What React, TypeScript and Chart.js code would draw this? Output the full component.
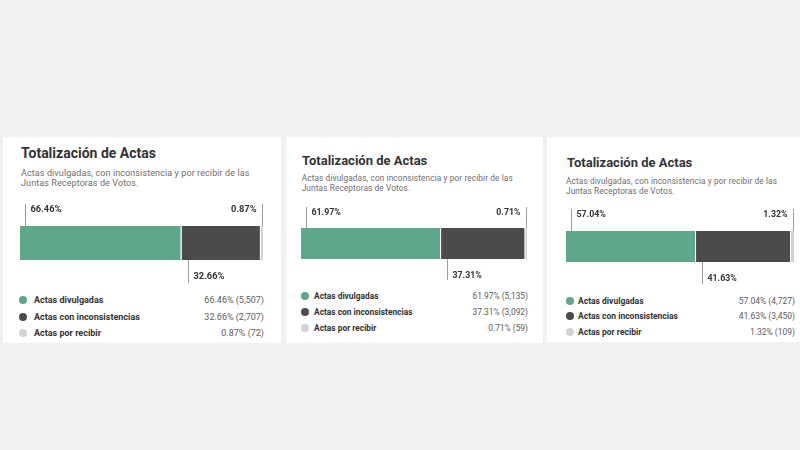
import React, { useEffect, useRef } from "react";
import { Chart, registerables } from "chart.js";
Chart.register(...registerables);

// ---------- data ----------
const TITLE = "Totalización de Actas";
const SUBTITLE_LINES = [
  "Actas divulgadas, con inconsistencia y por recibir de las",
  "Juntas Receptoras de Votos.",
];
const categories = ["Actas divulgadas", "Actas con inconsistencias", "Actas por recibir"];
const pctPanel1 = [66.46, 32.66, 0.87];
const countPanel1 = [5507, 2707, 72];
const pctPanel2 = [61.97, 37.31, 0.71];
const countPanel2 = [5135, 3092, 59];
const pctPanel3 = [57.04, 41.63, 1.32];
const countPanel3 = [4727, 3450, 109];

// ---------- styles ----------
const COLORS = ["#5ea78b", "#4b4b4b", "#d2d2d2"];
const FONT = "Roboto, 'Noto Sans', sans-serif";

type PanelLayout = {
  left: number; top: number; width: number; height: number;
  titleX: number; titleTop: number; titleFs: number;
  subX: number; subTop: number; subFs: number; subLh: number;
  canvasTop: number; canvasH: number;
  pad: { left: number; right: number; top: number; bottom: number };
  rows: number[]; dotX: number; dot: number; labelX: number; valueRight: number; legendFs: number;
  annotFs: number; up: number; down: number;
};

const layouts: PanelLayout[] = [
  {
    left: 3, top: 137, width: 278, height: 206,
    titleX: 18, titleTop: 9.2, titleFs: 14,
    subX: 18, subTop: 30.5, subFs: 9, subLh: 10.5,
    canvasTop: 61, canvasH: 92,
    pad: { left: 17, right: 18, top: 28, bottom: 30 },
    rows: [163, 180, 196], dotX: 20, dot: 8.5, labelX: 31, valueRight: 17, legendFs: 9,
    annotFs: 9.3, up: 22, down: 23,
  },
  {
    left: 286, top: 137, width: 257, height: 206,
    titleX: 16, titleTop: 17.1, titleFs: 13,
    subX: 15.7, subTop: 36, subFs: 8.3, subLh: 10,
    canvasTop: 63, canvasH: 88,
    pad: { left: 15, right: 16, top: 28, bottom: 29 },
    rows: [159, 175, 191], dotX: 19, dot: 8, labelX: 28, valueRight: 15, legendFs: 8.4,
    annotFs: 8.8, up: 21, down: 21,
  },
  {
    left: 547, top: 137, width: 260, height: 205,
    titleX: 20, titleTop: 19.1, titleFs: 13,
    subX: 19, subTop: 39, subFs: 8.3, subLh: 10,
    canvasTop: 65, canvasH: 90,
    pad: { left: 19, right: 13, top: 29, bottom: 30 },
    rows: [164, 179, 195], dotX: 23, dot: 8, labelX: 31, valueRight: 12, legendFs: 8.5,
    annotFs: 8.8, up: 22, down: 22,
  },
];

const fmtPct = (v: number) => v.toFixed(2) + "%";

const annotPlugin = {
  id: "annot",
  afterDatasetsDraw(chart: any, _args: any, opts: any) {
    const ctx = chart.ctx as CanvasRenderingContext2D;
    const pct: number[] = opts.pct;
    const el0 = chart.getDatasetMeta(0).data[0] as any;
    const el1 = chart.getDatasetMeta(1).data[0] as any;
    const el2 = chart.getDatasetMeta(2).data[0] as any;
    const top = el0.y - el0.height / 2;
    const bottom = el0.y + el0.height / 2;
    ctx.save();
    ctx.strokeStyle = "#9c9c9c";
    ctx.lineWidth = 1;
    ctx.fillStyle = "#333333";
    ctx.font = `bold ${opts.fs}px ${FONT}`;
    ctx.textBaseline = "middle";

    // first segment: line above at start
    const x0 = Math.round(el0.base + 5) + 0.5;
    ctx.beginPath();
    ctx.moveTo(x0, top - opts.up);
    ctx.lineTo(x0, top);
    ctx.stroke();
    ctx.textAlign = "left";
    ctx.fillText(fmtPct(pct[0]), x0 + 5, top - opts.up + 6);

    // last segment: line above at end
    const x2 = Math.round(el2.x - 1) + 0.5;
    ctx.beginPath();
    ctx.moveTo(x2, top - opts.up);
    ctx.lineTo(x2, top);
    ctx.stroke();
    ctx.textAlign = "right";
    ctx.fillText(fmtPct(pct[2]), x2 - 6, top - opts.up + 6);

    // middle segment: line below at its start
    const x1 = Math.round(el1.base + 6) + 0.5;
    ctx.beginPath();
    ctx.moveTo(x1, bottom);
    ctx.lineTo(x1, bottom + opts.down);
    ctx.stroke();
    ctx.textAlign = "left";
    ctx.fillText(fmtPct(pct[1]), x1 + 5, bottom + 17);
    ctx.restore();
  },
};

function Panel({ pct, counts, L }: { pct: number[]; counts: number[]; L: PanelLayout }) {
  const ref = useRef<HTMLCanvasElement>(null);
  useEffect(() => {
    if (!ref.current) return;
    const total = pct.reduce((a, b) => a + b, 0);
    const chart = new Chart(ref.current, {
      type: "bar",
      data: {
        labels: [""],
        datasets: categories.map((c, i) => ({
          label: c,
          data: [pct[i]],
          backgroundColor: COLORS[i],
          borderColor: "#ffffff",
          borderWidth: i < 2 ? { top: 0, bottom: 0, left: 0, right: 1 } : 0,
          borderSkipped: false,
          barPercentage: 1,
          categoryPercentage: 1,
          inflateAmount: 0,
        })),
      },
      options: {
        indexAxis: "y",
        responsive: false,
        maintainAspectRatio: false,
        animation: false,
        layout: { padding: L.pad },
        scales: {
          x: { stacked: true, display: false, min: 0, max: total },
          y: { stacked: true, display: false },
        },
        plugins: {
          legend: { display: false },
          tooltip: { enabled: false },
          annot: { pct, fs: L.annotFs, up: L.up, down: L.down },
        } as any,
      },
      plugins: [annotPlugin],
    } as any);
    return () => chart.destroy();
  }, []);

  return (
    <div
      style={{
        position: "absolute", left: L.left, top: L.top, width: L.width, height: L.height,
        background: "#ffffff", overflow: "hidden", fontFamily: FONT,
      }}
    >
      <div
        style={{
          position: "absolute", left: L.titleX, top: L.titleTop, fontSize: L.titleFs,
          lineHeight: `${L.titleFs}px`, fontWeight: 700, color: "#333333", whiteSpace: "nowrap",
        }}
      >
        {TITLE}
      </div>
      <div
        style={{
          position: "absolute", left: L.subX, top: L.subTop, fontSize: L.subFs,
          lineHeight: `${L.subLh}px`, color: "#6e6e6e", whiteSpace: "nowrap", letterSpacing: "0.1px",
        }}
      >
        {SUBTITLE_LINES.map((s, i) => (
          <div key={i}>{s}</div>
        ))}
      </div>
      <canvas
        ref={ref}
        width={L.width}
        height={L.canvasH}
        style={{ position: "absolute", left: 0, top: L.canvasTop, display: "block" }}
      />
      {categories.map((c, i) => (
        <div
          key={c}
          style={{
            position: "absolute", left: 0, right: 0, top: L.rows[i] - 6, height: 12,
            fontSize: L.legendFs, lineHeight: "12px",
          }}
        >
          <span
            style={{
              position: "absolute", left: L.dotX - L.dot / 2, top: 6 - L.dot / 2,
              width: L.dot, height: L.dot, borderRadius: "50%", background: COLORS[i],
            }}
          />
          <span style={{ position: "absolute", left: L.labelX, top: 0, fontWeight: 700, color: "#333333", whiteSpace: "nowrap" }}>
            {c}
          </span>
          <span style={{ position: "absolute", right: L.valueRight, top: 0, color: "#5c5c5c", whiteSpace: "nowrap" }}>
            {`${fmtPct(pct[i])} (${counts[i].toLocaleString("en-US")})`}
          </span>
        </div>
      ))}
    </div>
  );
}

export default function App() {
  return (
    <div
      style={{
        position: "absolute", left: 0, top: 0, width: 800, height: 450,
        background: "#f1f1ef", overflow: "hidden",
      }}
    >
      <Panel pct={pctPanel1} counts={countPanel1} L={layouts[0]} />
      <Panel pct={pctPanel2} counts={countPanel2} L={layouts[1]} />
      <Panel pct={pctPanel3} counts={countPanel3} L={layouts[2]} />
    </div>
  );
}
